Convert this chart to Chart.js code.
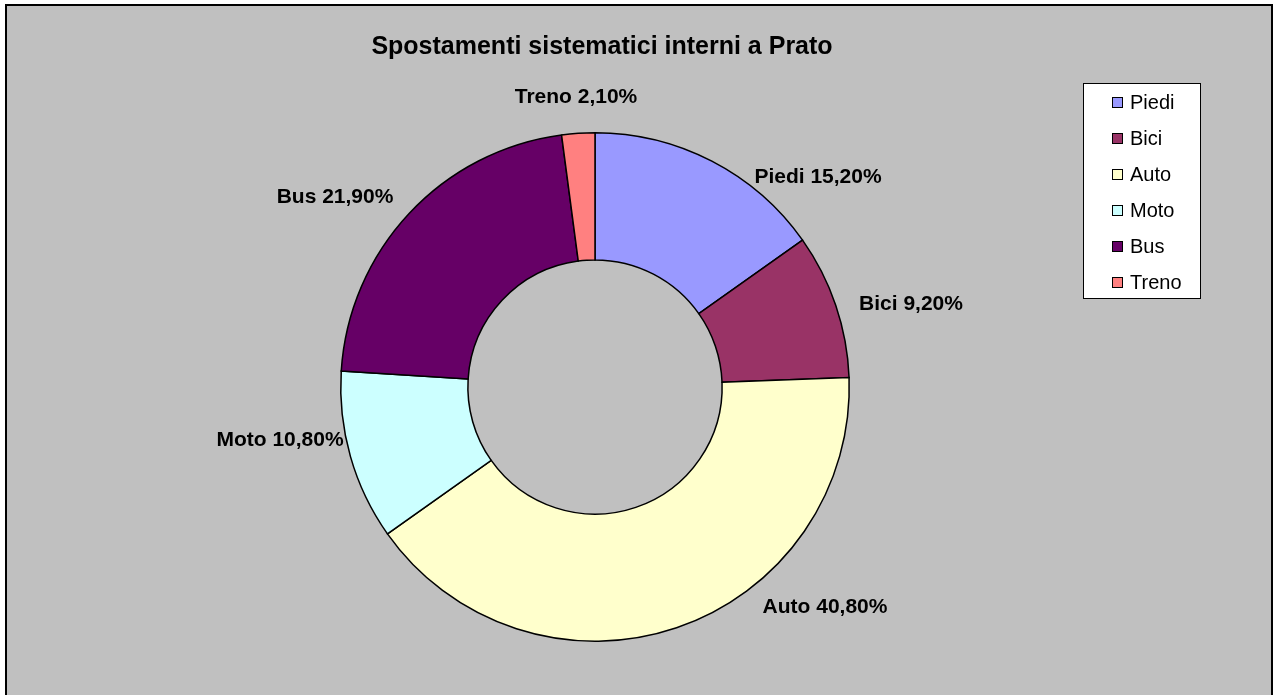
<!DOCTYPE html>
<html>
<head>
<meta charset="utf-8">
<script src="https://cdn.jsdelivr.net/npm/chart.js@4/dist/chart.umd.min.js"></script>
<style>
  html, body { margin: 0; padding: 0; background: #fff; }
  #wrap { width: 1275px; height: 695px; position: relative; }
</style>
</head>
<body>
<div id="wrap"><canvas id="c" width="1275" height="695"></canvas></div>
<script>
const title = 'Spostamenti sistematici interni a Prato'
const categories = ['Piedi', 'Bici', 'Auto', 'Moto', 'Bus', 'Treno']
const shares = [15.2, 9.2, 40.8, 10.8, 21.9, 2.1]
const colors = ['#9999FF', '#993366', '#FFFFCC', '#CCFFFF', '#660066', '#FF8080']

// where the outside labels sit (text centre), as placed in the original sheet
const labelPos = [[818, 177], [911, 304], [825, 607], [280, 440], [335, 197], [576, 97]]

const fmt = v => v.toFixed(2).replace('.', ',') + '%'

const frame = {
  id: 'frame',
  beforeDraw(chart) {
    const { ctx } = chart
    ctx.save()
    ctx.fillStyle = '#C0C0C0'
    ctx.fillRect(6, 5, 1266, 700)
    ctx.strokeStyle = '#000'
    ctx.lineWidth = 2
    ctx.strokeRect(6, 5, 1266, 700)
    ctx.restore()
  },
  afterDraw(chart) {
    const { ctx } = chart
    ctx.save()
    ctx.fillStyle = '#000'
    ctx.textAlign = 'center'
    ctx.textBaseline = 'middle'
    ctx.font = 'bold 25px "Liberation Sans", Arial, sans-serif'
    ctx.fillText(title, 602, 47)

    ctx.font = 'bold 21px "Liberation Sans", Arial, sans-serif'
    categories.forEach((c, i) => {
      const [x, y] = labelPos[i]
      ctx.fillText(c + ' ' + fmt(shares[i]), x, y)
    })

    // legend
    ctx.fillStyle = '#fff'
    ctx.fillRect(1083, 83, 117, 215)
    ctx.strokeStyle = '#000'
    ctx.lineWidth = 1
    ctx.strokeRect(1083.5, 83.5, 117, 215)
    ctx.font = '20px "Liberation Sans", Arial, sans-serif'
    ctx.textAlign = 'left'
    categories.forEach((c, i) => {
      const y = 102 + i * 36
      ctx.fillStyle = colors[i]
      ctx.fillRect(1112, y - 5, 11, 11)
      ctx.strokeStyle = '#000'
      ctx.strokeRect(1112.5, y - 4.5, 10, 10)
      ctx.fillStyle = '#000'
      ctx.fillText(c, 1130, y + 1)
    })
    ctx.restore()
  }
}

new Chart(document.getElementById('c'), {
  type: 'doughnut',
  data: {
    labels: categories,
    datasets: [{
      data: shares,
      backgroundColor: colors,
      borderColor: '#000',
      borderWidth: 1.5,
      borderJoinStyle: 'miter',
    }],
  },
  options: {
    responsive: false,
    animation: false,
    cutout: '50%',
    layout: { padding: { left: 340, right: 425, top: 132, bottom: 53 } },
    plugins: {
      legend: { display: false },
      tooltip: { enabled: false },
    },
  },
  plugins: [frame],
})
</script>
</body>
</html>
